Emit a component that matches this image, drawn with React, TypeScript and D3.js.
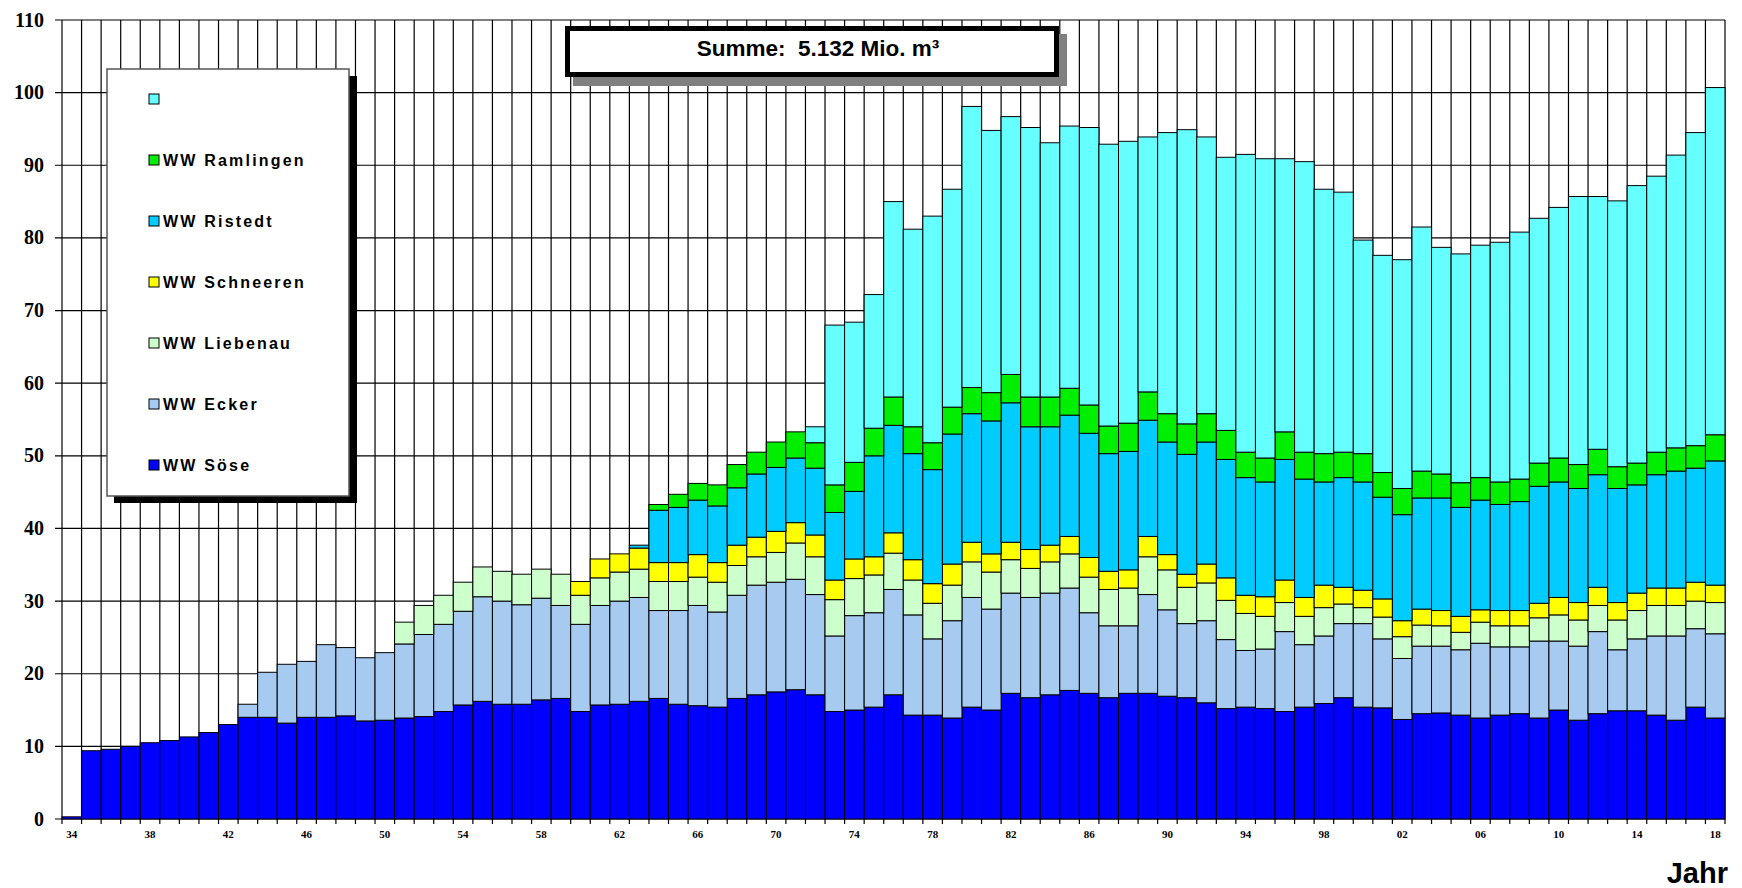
import React from "react";
import * as d3 from "d3";

// Jahre 1934 .. 2018
const years = d3.range(1934, 2019);

// Förderung je Wasserwerk (Mio. m³), von unten nach oben gestapelt
const soese = [
  0.3, 9.4, 9.6, 10.0, 10.5, 10.8, 11.3, 11.9, 13.0, 14.0,
  14.0, 13.2, 14.0, 14.0, 14.2, 13.5, 13.6, 13.9, 14.1, 14.8,
  15.7, 16.2, 15.8, 15.8, 16.4, 16.6, 14.8, 15.7, 15.8, 16.2,
  16.6, 15.8, 15.6, 15.4, 16.6, 17.1, 17.5, 17.8, 17.1, 14.8,
  15.0, 15.4, 17.1, 14.3, 14.3, 13.9, 15.4, 15.0, 17.3, 16.7,
  17.1, 17.7, 17.3, 16.7, 17.3, 17.3, 16.9, 16.7, 16.0, 15.2,
  15.4, 15.2, 14.8, 15.4, 15.9, 16.7, 15.4, 15.3, 13.7, 14.5,
  14.6, 14.3, 13.9, 14.3, 14.5, 13.9, 15.0, 13.6, 14.5, 14.9,
  14.9, 14.3, 13.6, 15.4, 13.9,
];
const ecker = [
  0, 0, 0, 0, 0, 0, 0, 0, 0, 1.8,
  6.2, 8.1, 7.7, 10.0, 9.4, 8.7, 9.3, 10.2, 11.3, 12.0,
  12.9, 14.4, 14.2, 13.7, 14.0, 12.8, 12.0, 13.7, 14.2, 14.3,
  12.1, 12.9, 13.8, 13.1, 14.2, 15.1, 15.1, 15.2, 13.8, 10.4,
  13.0, 13.0, 14.5, 13.8, 10.5, 13.4, 15.1, 13.9, 13.8, 13.8,
  14.0, 14.1, 11.1, 9.9, 9.3, 13.6, 11.9, 10.2, 11.3, 9.5,
  7.8, 8.2, 11.0, 8.6, 9.3, 10.2, 11.5, 9.5, 8.4, 9.3,
  9.2, 9.0, 10.3, 9.4, 9.2, 10.6, 9.5, 10.2, 11.3, 8.4,
  9.9, 10.9, 11.6, 10.8, 11.6,
];
const liebenau = [
  0, 0, 0, 0, 0, 0, 0, 0, 0, 0,
  0, 0, 0, 0, 0, 0, 0, 3.0, 4.0, 4.0,
  4.0, 4.1, 4.1, 4.2, 4.0, 4.3, 4.0, 3.8, 4.0, 3.9,
  4.0, 4.0, 3.9, 4.1, 4.1, 3.9, 4.1, 5.0, 5.2, 5.0,
  5.1, 5.2, 5.0, 4.8, 4.9, 4.9, 4.9, 5.1, 4.6, 4.0,
  4.3, 4.7, 4.9, 5.0, 5.2, 5.2, 5.5, 5.0, 5.2, 5.4,
  5.1, 4.5, 4.0, 3.9, 3.9, 2.7, 2.2, 3.0, 3.0, 2.9,
  2.8, 2.4, 2.9, 2.9, 2.9, 3.2, 3.6, 3.6, 3.6, 4.1,
  3.9, 4.2, 4.2, 3.8, 4.3,
];
const schneeren = [
  0, 0, 0, 0, 0, 0, 0, 0, 0, 0,
  0, 0, 0, 0, 0, 0, 0, 0, 0, 0,
  0, 0, 0, 0, 0, 0, 1.9, 2.6, 2.5, 2.9,
  2.6, 2.6, 3.1, 2.7, 2.8, 2.7, 2.9, 2.8, 3.0, 2.7,
  2.7, 2.5, 2.8, 2.8, 2.7, 2.9, 2.7, 2.5, 2.4, 2.6,
  2.3, 2.4, 2.7, 2.5, 2.5, 2.8, 2.1, 1.8, 2.6, 3.1,
  2.5, 2.7, 3.1, 2.6, 3.1, 2.3, 2.4, 2.5, 2.2, 2.2,
  2.1, 2.2, 1.7, 2.1, 2.1, 2.0, 2.4, 2.4, 2.5, 2.4,
  2.4, 2.4, 2.4, 2.6, 2.4,
];
const ristedt = [
  0, 0, 0, 0, 0, 0, 0, 0, 0, 0,
  0, 0, 0, 0, 0, 0, 0, 0, 0, 0,
  0, 0, 0, 0, 0, 0, 0, 0, 0, 0.4,
  7.2, 7.6, 7.5, 7.8, 7.9, 8.7, 8.8, 8.9, 9.2, 9.3,
  9.3, 13.9, 14.8, 14.6, 15.7, 17.9, 17.7, 18.3, 19.2, 16.9,
  16.3, 16.7, 17.1, 16.2, 16.3, 16.0, 15.5, 16.5, 16.8, 16.3,
  16.2, 15.8, 16.6, 16.3, 14.2, 15.1, 14.9, 14.0, 14.6, 15.3,
  15.5, 15.0, 15.1, 14.6, 15.0, 16.1, 15.9, 15.7, 15.5, 15.7,
  14.9, 15.6, 16.1, 15.7, 17.1,
];
const ramlingen = [
  0, 0, 0, 0, 0, 0, 0, 0, 0, 0,
  0, 0, 0, 0, 0, 0, 0, 0, 0, 0,
  0, 0, 0, 0, 0, 0, 0, 0, 0, 0,
  0.8, 1.8, 2.3, 2.9, 3.2, 3.0, 3.5, 3.6, 3.5, 3.8,
  4.0, 3.8, 3.9, 3.7, 3.7, 3.7, 3.6, 3.9, 3.9, 4.1,
  4.1, 3.7, 3.9, 3.8, 3.9, 3.9, 3.9, 4.2, 3.9, 4.0,
  3.5, 3.3, 3.8, 3.7, 3.9, 3.5, 3.9, 3.4, 3.6, 3.7,
  3.3, 3.4, 3.1, 3.1, 3.1, 3.2, 3.3, 3.3, 3.5, 3.0,
  3.0, 3.1, 3.2, 3.1, 3.6,
];
const sonstige = [
  0, 0, 0, 0, 0, 0, 0, 0, 0, 0,
  0, 0, 0, 0, 0, 0, 0, 0, 0, 0,
  0, 0, 0, 0, 0, 0, 0, 0, 0, 0,
  0, 0, 0, 0, 0, 0, 0, 0, 2.2, 22.0,
  19.3, 18.4, 26.9, 27.2, 31.2, 30.0, 38.7, 36.1, 35.5, 37.1,
  35.0, 36.1, 38.2, 38.8, 38.8, 35.1, 38.7, 40.5, 38.1, 37.6,
  41.0, 41.2, 37.6, 40.0, 36.4, 35.8, 29.4, 29.9, 31.5, 33.6,
  31.2, 31.5, 32.0, 33.0, 34.0, 33.7, 34.5, 36.9, 34.8, 36.6,
  38.2, 38.0, 40.3, 43.1, 47.8,
];

const seriesKeys = ["soese", "ecker", "liebenau", "schneeren", "ristedt", "ramlingen", "sonstige"];
const seriesLabels = ["WW Söse", "WW Ecker", "WW Liebenau", "WW Schneeren", "WW Ristedt", "WW Ramlingen", ""];
const seriesColors = ["#0000FF", "#A6CAF0", "#CCFFCC", "#FFFF00", "#00CCFF", "#00EE00", "#66FFFF"];
const yTicks = [0, 10, 20, 30, 40, 50, 60, 70, 80, 90, 100, 110];
const title = "Summe:  5.132 Mio. m³";

export default function App() {
  const W = 1742;
  const H = 888;
  const left = 62, right = 1725, top = 20, bottom = 819;

  const table = years.map((y, i) => ({
    year: y,
    soese: soese[i],
    ecker: ecker[i],
    liebenau: liebenau[i],
    schneeren: schneeren[i],
    ristedt: ristedt[i],
    ramlingen: ramlingen[i],
    sonstige: sonstige[i],
  }));

  const x = d3.scaleBand<number>().domain(years).range([left, right]).padding(0);
  const y = d3.scaleLinear().domain([0, 110]).range([bottom, top]);
  const stacked = d3.stack<any>().keys(seriesKeys)(table);

  const bw = x.bandwidth();
  const boundaries = years.map((yr) => x(yr)!).concat([right]);

  const serif = "'Liberation Serif', 'Times New Roman', serif";
  const sans = "'Liberation Sans', Arial, sans-serif";

  // legend, top entry first
  const legendOrder = [6, 5, 4, 3, 2, 1, 0];

  return (
    <svg width={W} height={H} style={{ position: "absolute", left: 0, top: 0, background: "#fff" }}>
      {/* horizontal grid */}
      {yTicks.map((t) => (
        <line key={"h" + t} x1={left - 7} x2={right} y1={y(t)} y2={y(t)} stroke="#000" strokeWidth={1.2} />
      ))}
      {/* vertical grid, one line per year boundary */}
      {boundaries.map((bx, i) => (
        <line key={"v" + i} x1={bx} x2={bx} y1={top} y2={bottom + 5} stroke="#000" strokeWidth={1.2} />
      ))}

      {/* stacked bars */}
      {stacked.map((layer, si) => (
        <g key={seriesKeys[si]} fill={seriesColors[si]} stroke="#000" strokeWidth={1}>
          {layer
            .filter((d) => d[1] - d[0] > 0)
            .map((d) => (
              <rect
                key={d.data.year}
                x={x(d.data.year)}
                y={y(d[1])}
                width={bw}
                height={y(d[0]) - y(d[1])}
              />
            ))}
        </g>
      ))}

      {/* y axis labels */}
      {yTicks.map((t) => (
        <text
          key={"yl" + t}
          x={44}
          y={y(t) + 6.5}
          textAnchor="end"
          fontFamily={serif}
          fontWeight="bold"
          fontSize={20}
        >
          {t}
        </text>
      ))}

      {/* x axis labels */}
      {years
        .filter((yr) => (yr - 1934) % 4 === 0)
        .map((yr) => (
          <text
            key={"xl" + yr}
            x={x(yr)! + bw / 2}
            y={838}
            textAnchor="middle"
            fontFamily={serif}
            fontWeight="bold"
            fontSize={11}
          >
            {String(yr % 100).padStart(2, "0")}
          </text>
        ))}

      <text x={1728} y={883} textAnchor="end" fontFamily={sans} fontWeight="bold" fontSize={29}>
        Jahr
      </text>

      {/* title box */}
      <rect x={573} y={34} width={494} height={52} fill="#808080" />
      <rect x={567.5} y={28.5} width={489} height={46} fill="#fff" stroke="#000" strokeWidth={5} />
      <text x={818} y={56} textAnchor="middle" fontFamily={sans} fontWeight="bold" fontSize={22.5} style={{ whiteSpace: "pre" }}>
        {title}
      </text>

      {/* legend */}
      <rect x={114} y={76} width={243} height={427} fill="#000" />
      <rect x={107} y={69} width={242} height={427} fill="#fff" stroke="#555" strokeWidth={1.5} />
      {legendOrder.map((si, k) => {
        const cy = 99 + k * 61;
        return (
          <g key={"lg" + si}>
            <rect x={149} y={cy - 5} width={10} height={10} fill={seriesColors[si]} stroke="#000" strokeWidth={1} />
            <text
              x={163}
              y={cy + 6}
              fontFamily={sans}
              fontWeight="bold"
              fontSize={16}
              letterSpacing={2.2}
            >
              {seriesLabels[si]}
            </text>
          </g>
        );
      })}
    </svg>
  );
}
